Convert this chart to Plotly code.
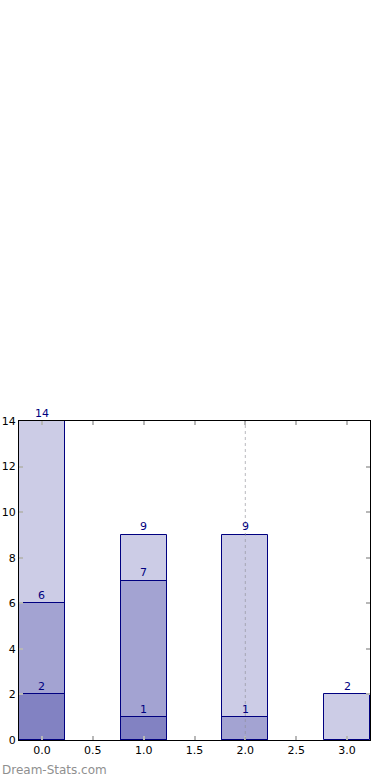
import plotly.graph_objects as go

categories = [0, 1, 2, 3]
totals = [14, 9, 9, 2]
middle = [6, 7, 1, None]
lower = [2, 1, None, None]

NAVY = "#000080"

fig = go.Figure()
for vals in (totals, middle, lower):
    fig.add_trace(go.Bar(
        x=categories, y=vals, width=0.45,
        marker=dict(color="rgba(0,0,128,0.2)", line=dict(color=NAVY, width=1)),
        showlegend=False, hoverinfo="skip",
    ))
    for c, v in zip(categories, vals):
        if v is None:
            continue
        fig.add_annotation(x=c, y=v, xref="x", yref="y", text=str(v), showarrow=False,
                           yanchor="middle", yshift=8,
                           font=dict(color=NAVY, size=11, family="DejaVu Sans"))

fig.add_shape(type="line", xref="x", yref="paper", x0=2, x1=2, y0=0, y1=1,
              line=dict(color="rgba(140,140,150,0.5)", width=1.2, dash="dot"), layer="above")

fig.add_annotation(text="Dream-Stats.com", xref="paper", yref="paper",
                   x=-19/351, y=-30/319, xanchor="left", yanchor="middle", showarrow=False,
                   font=dict(family="DejaVu Sans", size=12, color="#8f8f8f"))

axis_common = dict(
    showgrid=False, zeroline=False, showline=True, linecolor="black", linewidth=1,
    mirror="ticks", ticks="inside", ticklen=4, tickcolor="#b8b8b8", tickwidth=2,
    tickfont=dict(family="DejaVu Sans", size=11, color="black"), automargin=False,
)
fig.update_layout(
    width=390, height=780,
    margin=dict(l=19, r=20, t=421, b=40),
    paper_bgcolor="white", plot_bgcolor="white",
    barmode="overlay", bargap=0,
    xaxis=dict(range=[-0.225, 3.225], tickvals=[0, 0.5, 1, 1.5, 2, 2.5, 3],
               ticktext=["0.0", "0.5", "1.0", "1.5", "2.0", "2.5", "3.0"], **axis_common),
    yaxis=dict(range=[0, 14], tickvals=[0, 2, 4, 6, 8, 10, 12, 14], **axis_common),
)
fig.write_html("out.html", config={"displayModeBar": False},
               post_script="document.body.style.margin='0';document.body.style.overflow='hidden';")
